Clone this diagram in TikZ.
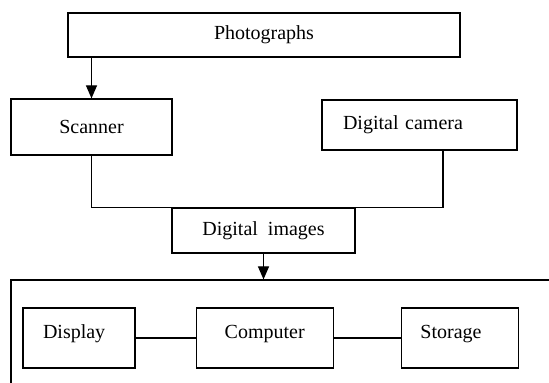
\documentclass[tikz,border=0pt]{standalone}
\usepackage{fontspec}
\setmainfont{Liberation Serif}
\usepackage{tikz}
\usetikzlibrary{arrows.meta,calc,positioning}

\begin{document}
\begin{tikzpicture}[
    x=0.5pt, y=-0.5pt,
    box/.style={draw=black, line width=0.6pt, align=center, inner sep=0pt, font=\fontsize{10}{12}\selectfont},
    lbox/.style={box, align=left, inner xsep=#1},
    unit/.style={text height=7pt, text depth=7pt, minimum height=30pt},
    arr/.style={-{Triangle[length=6.5pt, width=5.5pt]}, line width=0.6pt, draw=black},
    link/.style={line width=0.6pt, draw=black}
  ]
    \useasboundingbox (0,0) rectangle (549,383);
    \clip (0,0) rectangle (549,383);
    \node[box, minimum width=196pt, minimum height=22pt] (photo) at (264,35) {Photographs};
    \node[box, minimum width=80.5pt, minimum height=28pt] (scanner) at (91.5,127) {Scanner};
    \node[lbox=10.5pt, text width=76.5pt, minimum height=25pt] (camera) at (419.5,125) {Digital camera};
    \node[box, minimum width=91.5pt, minimum height=22.5pt] (images) at (263.5,230.5) {Digital~~images};
    \node[box, minimum width=274.5pt, minimum height=57.5pt] (system) at (285.5,337.5) {};
    \node[lbox=10pt, unit, text width=36pt] (display) at (79,338) {Display};
    \node[box, unit, minimum width=68.5pt, right=30pt of display] (computer) {Computer};
    \node[lbox=9.5pt, unit, text width=39.5pt, right=33.5pt of computer] (storage) {Storage};
    \coordinate (camfoot) at ([xshift=11.75pt]camera.south);
    \draw[arr] (scanner.north |- photo.south) -- (scanner.north);
    \draw[link] (scanner.south) |- (camfoot |- images.north) -- (camfoot);
    \draw[arr] (images.south) -- (images.south |- system.north);
    \draw[link] (display) -- (computer);
    \draw[link] (computer) -- (storage);
  \end{tikzpicture}
\end{document}
